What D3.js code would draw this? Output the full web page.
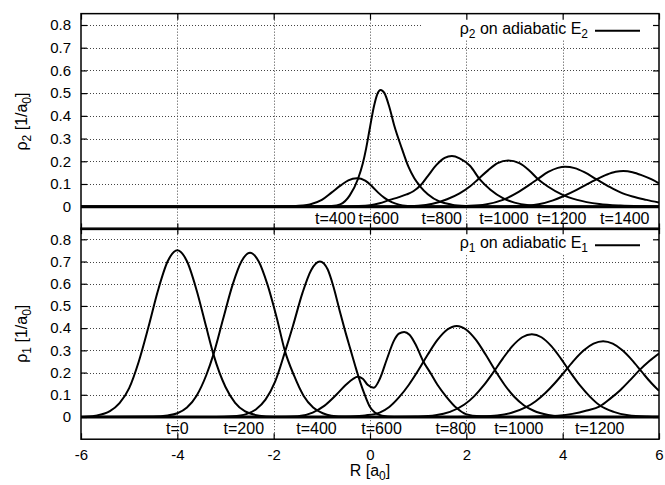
<!DOCTYPE html>
<html lang="en">
<head>
  <meta charset="utf-8">
  <title>rho on adiabatic states</title>
  <script src="https://cdn.jsdelivr.net/npm/d3@7"></script>
  <style>
    body { margin: 0; background: #fff; }
    svg text { font-family: "Liberation Sans", Arial, Helvetica, sans-serif; font-size: 16px; fill: #000; }
  </style>
</head>
<body>
<script>
  // axis ticks
  const rTicks = [-6, -4, -2, 0, 2, 4, 6];
  const rhoTicks = [0, 0.1, 0.2, 0.3, 0.4, 0.5, 0.6, 0.7, 0.8];

  // rho_2 on adiabatic E_2 (top panel), [R, rho]
  const rho2_t400 = [[-6, 0], [-2, 0], [-1.6, 0.002], [-1.4, 0.005], [-1.25, 0.01], [-1.0, 0.03], [-0.8, 0.062],
    [-0.6, 0.095], [-0.45, 0.116], [-0.27, 0.125], [-0.1, 0.115], [0.05, 0.088], [0.17, 0.062], [0.3, 0.039],
    [0.45, 0.02], [0.6, 0.009], [0.8, 0.003], [1.0, 0.001], [1.5, 0], [6, 0]];
  const rho2_t600 = [[-6, 0], [-1.5, 0], [-1.0, 0.001], [-0.8, 0.003], [-0.62, 0.01], [-0.42, 0.05], [-0.25, 0.122],
    [-0.15, 0.19], [-0.08, 0.257], [0.0, 0.35], [0.08, 0.44], [0.15, 0.495], [0.22, 0.514], [0.3, 0.5],
    [0.4, 0.44], [0.5, 0.36], [0.66, 0.257], [0.8, 0.175], [0.92, 0.125], [1.04, 0.09], [1.2, 0.055],
    [1.45, 0.022], [1.7, 0.009], [2.0, 0.003], [2.5, 0], [6, 0]];
  const rho2_t800 = [[-6, 0], [-0.6, 0], [-0.3, 0.002], [0, 0.006], [0.2, 0.015], [0.41, 0.03], [0.6, 0.042],
    [0.76, 0.054], [0.9, 0.068], [1.04, 0.092], [1.2, 0.135], [1.38, 0.184], [1.55, 0.215], [1.7, 0.223],
    [1.86, 0.213], [2.08, 0.179], [2.28, 0.12], [2.5, 0.075], [2.76, 0.038], [3.0, 0.018], [3.3, 0.006],
    [3.7, 0.001], [4.2, 0], [6, 0]];
  const rho2_t1000 = [[-6, 0], [0.5, 0], [1.0, 0.004], [1.3, 0.013], [1.6, 0.033], [1.86, 0.059], [2.08, 0.09],
    [2.24, 0.12], [2.45, 0.16], [2.65, 0.192], [2.87, 0.203], [3.1, 0.192], [3.3, 0.161], [3.49, 0.121],
    [3.7, 0.088], [4.0, 0.052], [4.3, 0.03], [4.76, 0.012], [5.2, 0.005], [5.7, 0.002], [6, 0.001]];
  const rho2_t1200 = [[-6, 0], [1.5, 0], [2.0, 0.003], [2.4, 0.01], [2.76, 0.03], [3.05, 0.061], [3.3, 0.095],
    [3.49, 0.123], [3.7, 0.153], [3.9, 0.171], [4.05, 0.176], [4.25, 0.17], [4.45, 0.152], [4.7, 0.121],
    [4.95, 0.09], [5.2, 0.063], [5.45, 0.045], [5.74, 0.03], [6.0, 0.018]];
  const rho2_t1400 = [[-6, 0], [2.5, 0], [3.0, 0.002], [3.5, 0.011], [3.8, 0.028], [4.0, 0.045], [4.3, 0.075],
    [4.5, 0.098], [4.7, 0.12], [4.9, 0.14], [5.1, 0.154], [5.26, 0.157], [5.45, 0.152], [5.65, 0.138],
    [5.85, 0.12], [6.0, 0.103]];

  // rho_1 on adiabatic E_1 (bottom panel), [R, rho]
  const rho1_t0 = [[-6, 0], [-5.7, 0.006], [-5.4, 0.026], [-5.2, 0.062], [-5.0, 0.13], [-4.8, 0.25], [-4.6, 0.405],
    [-4.4, 0.571], [-4.2, 0.701], [-4.0, 0.751], [-3.8, 0.701], [-3.6, 0.571], [-3.4, 0.405], [-3.25, 0.282],
    [-3.0, 0.135], [-2.8, 0.064], [-2.6, 0.026], [-2.3, 0.006], [-2.0, 0.001], [-1.5, 0], [6, 0]];
  const rho1_t200 = [[-6, 0], [-4.5, 0.002], [-4.2, 0.007], [-4.0, 0.017], [-3.8, 0.043], [-3.6, 0.096],
    [-3.4, 0.188], [-3.25, 0.282], [-3.05, 0.441], [-2.85, 0.597], [-2.67, 0.7], [-2.49, 0.74], [-2.31, 0.7],
    [-2.13, 0.597], [-1.93, 0.441], [-1.77, 0.3], [-1.58, 0.188], [-1.38, 0.096], [-1.18, 0.043],
    [-0.98, 0.017], [-0.8, 0.006], [-0.5, 0.001], [0, 0], [6, 0]];
  const rho1_t400 = [[-6, 0], [-3.2, 0], [-2.85, 0.003], [-2.57, 0.013], [-2.37, 0.034], [-2.17, 0.078],
    [-1.97, 0.159], [-1.77, 0.29], [-1.6, 0.41], [-1.4, 0.56], [-1.22, 0.662], [-1.04, 0.7], [-0.88, 0.665],
    [-0.75, 0.58], [-0.62, 0.47], [-0.52, 0.39], [-0.4, 0.3], [-0.3, 0.225], [-0.2, 0.155], [-0.1, 0.095],
    [0.0, 0.045], [0.1, 0.02], [0.25, 0.006], [0.5, 0.001], [1, 0], [6, 0]];
  const rho1_t600 = [[-6, 0], [-2, 0], [-1.5, 0.003], [-1.19, 0.02], [-0.95, 0.05], [-0.7, 0.1], [-0.5, 0.145],
    [-0.35, 0.172], [-0.26, 0.181], [-0.15, 0.172], [-0.05, 0.145], [0.08, 0.132], [0.2, 0.17], [0.35, 0.26],
    [0.5, 0.345], [0.6, 0.375], [0.71, 0.383], [0.82, 0.37], [0.95, 0.325], [1.11, 0.249], [1.25, 0.2],
    [1.4, 0.145], [1.59, 0.09], [1.8, 0.04], [1.99, 0.013], [2.3, 0.003], [2.8, 0], [6, 0]];
  const rho1_t800 = [[-6, 0], [-0.8, 0], [-0.4, 0.002], [-0.1, 0.007], [0.2, 0.02], [0.4, 0.045], [0.6, 0.088],
    [0.8, 0.143], [1.0, 0.209], [1.2, 0.281], [1.4, 0.347], [1.6, 0.393], [1.8, 0.41], [2.0, 0.393],
    [2.2, 0.347], [2.4, 0.281], [2.6, 0.209], [2.8, 0.143], [3.0, 0.09], [3.2, 0.052], [3.4, 0.028],
    [3.7, 0.009], [4.0, 0.002], [4.5, 0], [6, 0]];
  const rho1_t1000 = [[-6, 0], [0.5, 0], [0.96, 0.002], [1.36, 0.008], [1.66, 0.023], [1.96, 0.056], [2.16, 0.093],
    [2.36, 0.142], [2.56, 0.201], [2.76, 0.264], [2.96, 0.32], [3.16, 0.359], [3.36, 0.373], [3.56, 0.359],
    [3.76, 0.32], [3.96, 0.264], [4.16, 0.201], [4.36, 0.142], [4.56, 0.093], [4.76, 0.054], [5.06, 0.023],
    [5.36, 0.008], [5.76, 0.002], [6, 0.001]];
  const rho1_t1200 = [[-6, 0], [1.8, 0], [2.24, 0.002], [2.64, 0.007], [2.94, 0.019], [3.24, 0.044], [3.44, 0.071],
    [3.64, 0.108], [3.84, 0.153], [4.04, 0.204], [4.24, 0.256], [4.44, 0.3], [4.64, 0.33], [4.84, 0.341],
    [5.04, 0.33], [5.24, 0.3], [5.44, 0.256], [5.64, 0.204], [5.84, 0.153], [6.0, 0.118]];
  const rho1_t1400 = [[-6, 0], [3.2, 0], [3.6, 0.003], [3.9, 0.006], [4.2, 0.014], [4.5, 0.029], [4.77, 0.048],
    [5.0, 0.085], [5.2, 0.122], [5.4, 0.166], [5.6, 0.212], [5.8, 0.252], [6.0, 0.286]];

  // time labels and the R where each sits
  const topLabels = ["t=400", "t=600", "t=800", "t=1000", "t=1200", "t=1400"];
  const topLabelR = [-0.72, 0.18, 1.49, 2.78, 3.98, 5.29];
  const botLabels = ["t=0", "t=200", "t=400", "t=600", "t=800", "t=1000", "t=1200"];
  const botLabelR = [-4.0, -2.62, -1.11, 0.24, 1.78, 3.09, 4.77];

  const W = 665, H = 485;
  const svg = d3.select("body").append("svg").attr("width", W).attr("height", H);

  const x = d3.scaleLinear().domain([-6, 6]).range([81, 659]);
  const px = v => Math.round(v) + 0.5; // sharp 1px lines

  const panels = [
    { id: "top", y: d3.scaleLinear().domain([0, 0.8]).range([206.7, 25]),
      curves: [rho2_t400, rho2_t600, rho2_t800, rho2_t1000, rho2_t1200, rho2_t1400],
      labels: topLabels, labelR: topLabelR, sub: "2" },
    { id: "bot", y: d3.scaleLinear().domain([0, 0.8]).range([417, 239.3]),
      curves: [rho1_t0, rho1_t200, rho1_t400, rho1_t600, rho1_t800, rho1_t1000, rho1_t1200, rho1_t1400],
      labels: botLabels, labelR: botLabelR, sub: "1" }
  ];

  // layers, so the frames of both panels end up on top
  const gBack = svg.append("g");
  const gFront = svg.append("g");

  panels.forEach(function (p, i) {
    const y = p.y;
    const y0 = y(0.85), y1 = y(-0.1);
    const g = gBack.append("g");

    g.append("clipPath").attr("id", "clip-" + p.id)
      .append("rect").attr("x", x(-6)).attr("y", y0).attr("width", x(6) - x(-6)).attr("height", y1 - y0);

    // dotted grid
    const grid = g.append("g").attr("stroke", "#444").attr("stroke-width", 1)
      .attr("stroke-dasharray", "1,2");
    grid.selectAll(".gx").data(rTicks.slice(1, -1)).enter().append("line")
      .attr("x1", d => px(x(d))).attr("x2", d => px(x(d))).attr("y1", y0).attr("y2", y1);
    grid.selectAll(".gy").data(rhoTicks.slice(1)).enter().append("line")
      .attr("x1", x(-6)).attr("x2", x(6)).attr("y1", d => px(y(d))).attr("y2", d => px(y(d)));

    // opaque key box
    g.append("rect").attr("x", 423).attr("y", y0 + 2).attr("width", 234).attr("height", 24).attr("fill", "#fff");

    // curves
    const line = d3.line().x(d => x(d[0])).y(d => y(d[1])).curve(d3.curveMonotoneX);
    g.append("g").attr("clip-path", "url(#clip-" + p.id + ")")
      .selectAll("path").data(p.curves).enter().append("path")
      .attr("d", line).attr("fill", "none").attr("stroke", "#000").attr("stroke-width", 2);

    // heavy baseline
    g.append("line").attr("x1", x(-6)).attr("x2", x(6)).attr("y1", y(0)).attr("y2", y(0))
      .attr("stroke", "#000").attr("stroke-width", 3);

    // time labels
    g.selectAll(".tl").data(p.labels).enter().append("text")
      .attr("x", (d, k) => x(p.labelR[k])).attr("y", y(-0.05) + 5.5)
      .attr("text-anchor", "middle").text(d => d);

    // ticks on all four sides, pointing inwards
    const f = gFront.append("g");
    const tickFmt = d => d === 0 ? "0" : d3.format(".1f")(d);
    f.append("g").attr("transform", "translate(" + x(-6) + ",0)")
      .call(d3.axisLeft(y).tickValues(rhoTicks).tickSize(-6).tickPadding(10).tickFormat(tickFmt));
    f.append("g").attr("transform", "translate(" + x(6) + ",0)")
      .call(d3.axisRight(y).tickValues(rhoTicks).tickSize(-6).tickFormat(""));
    f.append("g").attr("transform", "translate(0," + y0 + ")")
      .call(d3.axisTop(x).tickValues(rTicks).tickSize(-6).tickFormat(""));
    f.append("g").attr("transform", "translate(0," + y1 + ")")
      .call(d3.axisBottom(x).tickValues(rTicks).tickSize(-6).tickPadding(10)
        .tickFormat(i === 1 ? (d => String(d)) : ""));

    f.selectAll(".domain").remove();
    f.selectAll(".tick line").attr("stroke", "#000").attr("stroke-width", 1.2);
    f.selectAll(".tick text").style("font-size", "15px")
      .style("font-family", "'Liberation Sans', Arial, Helvetica, sans-serif");

    // frame
    f.append("rect").attr("x", x(-6)).attr("y", y0).attr("width", x(6) - x(-6)).attr("height", y1 - y0)
      .attr("fill", "none").attr("stroke", "#000").attr("stroke-width", 1.5);

    // key
    const key = f.append("text").attr("x", 588).attr("y", y0 + 20).attr("text-anchor", "end");
    key.append("tspan").text("\u03c1");
    key.append("tspan").attr("dy", 4).style("font-size", "12px").text(p.sub);
    key.append("tspan").attr("dy", -4).text(" on adiabatic E");
    key.append("tspan").attr("dy", 4).style("font-size", "12px").text(p.sub);
    f.append("line").attr("x1", 595).attr("x2", 640).attr("y1", y0 + 17).attr("y2", y0 + 17)
      .attr("stroke", "#000").attr("stroke-width", 2);

    // y title
    const yt = f.append("text")
      .attr("transform", "translate(27," + ((y0 + y1) / 2) + ") rotate(-90)")
      .attr("text-anchor", "middle");
    yt.append("tspan").text("\u03c1");
    yt.append("tspan").attr("dy", 4).style("font-size", "12px").text(p.sub);
    yt.append("tspan").attr("dy", -4).text(" [1/a");
    yt.append("tspan").attr("dy", 4).style("font-size", "12px").text("0");
    yt.append("tspan").attr("dy", -4).text("]");
  });

  // x title
  const xt = svg.append("text").attr("x", x(0)).attr("y", 476).attr("text-anchor", "middle");
  xt.append("tspan").text("R [a");
  xt.append("tspan").attr("dy", 4).style("font-size", "12px").text("0");
  xt.append("tspan").attr("dy", -4).text("]");
</script>
</body>
</html>
